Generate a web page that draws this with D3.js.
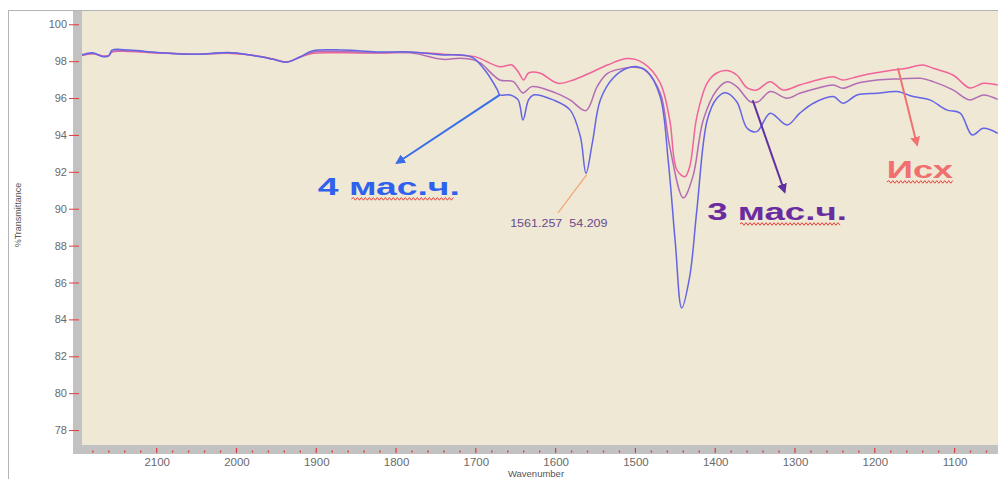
<!DOCTYPE html>
<html>
<head>
<meta charset="utf-8">
<script src="https://cdn.jsdelivr.net/npm/d3@7/dist/d3.min.js"></script>
<style>
  html, body { margin: 0; padding: 0; background: #fff; }
  svg { display: block; font-family: "Liberation Sans", Arial, sans-serif; }
</style>
</head>
<body>
<div id="chart"></div>
<script>
// spectra: [wavenumber, %T]
const isxSeries = [
  [2194, 98.30], [2180, 98.40], [2167, 98.28], [2160, 98.30], [2156, 98.50], [2134, 98.52], [2096, 98.44],
  [2055, 98.38], [2006, 98.42], [1970, 98.26], [1954, 98.12], [1937, 97.96], [1920, 98.22],
  [1904, 98.43], [1866, 98.45], [1824, 98.44], [1782, 98.48], [1741, 98.38], [1720, 98.32],
  [1703, 98.26], [1695, 98.15], [1670, 97.70], [1655, 97.79], [1647, 97.43],
  [1640, 96.98], [1634, 97.36], [1620, 97.36], [1597, 96.80], [1578, 96.98], [1557, 97.36],
  [1535, 97.79], [1510, 98.14], [1490, 97.89], [1469, 96.82], [1457, 94.81],
  [1448, 92.10], [1438, 91.74], [1432, 92.28], [1423, 94.99], [1410, 96.82], [1398, 97.36],
  [1385, 97.49], [1373, 97.25], [1360, 96.55], [1348, 96.44], [1331, 96.89], [1315, 96.44],
  [1294, 96.71], [1272, 96.98], [1252, 97.16], [1240, 96.98], [1222, 97.16], [1202, 97.34],
  [1177, 97.52], [1160, 97.62], [1140, 97.79], [1127, 97.62], [1102, 97.25], [1081, 96.55],
  [1064, 96.80], [1046, 96.71]
];
const mas3Series = [
  [2194, 98.32], [2180, 98.42], [2167, 98.26], [2160, 98.30], [2156, 98.52], [2134, 98.55], [2096, 98.45],
  [2055, 98.37], [2006, 98.44], [1970, 98.25], [1954, 98.11], [1937, 97.95], [1920, 98.23],
  [1904, 98.50], [1866, 98.52], [1824, 98.46], [1782, 98.45], [1741, 98.10], [1720, 98.16],
  [1703, 98.07], [1694, 97.89], [1670, 96.98], [1653, 96.89], [1641, 96.28], [1630, 96.62],
  [1600, 96.28], [1582, 95.90], [1562, 95.32], [1548, 96.62], [1535, 97.34], [1510, 97.65],
  [1503, 97.67], [1488, 97.52], [1469, 96.28], [1457, 93.37], [1440, 90.59], [1428, 91.74],
  [1415, 94.81], [1398, 96.44], [1385, 96.89], [1373, 96.62], [1356, 95.80], [1346, 95.80],
  [1331, 96.35], [1310, 95.99], [1294, 96.26], [1272, 96.53], [1252, 96.71], [1240, 96.53],
  [1222, 96.80], [1197, 96.98], [1168, 97.04], [1143, 97.07], [1127, 96.89], [1102, 96.44],
  [1081, 95.90], [1064, 96.17], [1046, 95.93]
];
const mas4Series = [
  [2194, 98.34], [2180, 98.46], [2167, 98.24], [2160, 98.30], [2156, 98.60], [2134, 98.60], [2096, 98.46],
  [2055, 98.37], [2006, 98.46], [1970, 98.24], [1954, 98.10], [1937, 97.94], [1920, 98.24],
  [1904, 98.57], [1866, 98.60], [1824, 98.50], [1782, 98.50], [1741, 98.34], [1720, 98.34],
  [1703, 98.17], [1686, 97.36], [1673, 96.44], [1670, 96.17], [1657, 96.17], [1647, 95.90],
  [1641, 94.81], [1634, 95.90], [1628, 96.17], [1603, 95.90], [1582, 95.36], [1569, 93.91],
  [1562, 91.92], [1554, 93.57], [1544, 95.90], [1528, 97.09], [1510, 97.63], [1498, 97.70],
  [1485, 97.43], [1469, 96.08], [1459, 92.65], [1450, 88.15], [1442, 84.62], [1432, 86.32],
  [1423, 89.94], [1410, 94.81], [1398, 95.99], [1387, 96.29], [1373, 95.80], [1360, 94.36],
  [1348, 94.18], [1331, 95.18], [1310, 94.54], [1294, 95.18], [1277, 95.72], [1252, 96.08],
  [1240, 95.72], [1222, 96.17], [1197, 96.26], [1172, 96.35], [1152, 96.08], [1131, 95.90],
  [1110, 95.36], [1093, 95.18], [1078, 94.00], [1064, 94.36], [1046, 94.09]
];

const yTicks = [78, 80, 82, 84, 86, 88, 90, 92, 94, 96, 98, 100];
const xTicks = [2100, 2000, 1900, 1800, 1700, 1600, 1500, 1400, 1300, 1200, 1100];
const xMinorTicks = d3.range(2180, 1040, -20);

// labels with arrows, in data units
const labels = [
  {text: "4 мас.ч.", from: 1898, to: 1720, t: 90.75, color: "#2f60ee", size: 24, wave: [1856, 1728]},
  {text: "3 мас.ч.", from: 1410, to: 1235, t: 89.39, color: "#6a2c9e", size: 24, wave: [1369, 1243]},
  {text: "Исх", from: 1185, to: 1102, t: 91.67, color: "#f07070", size: 24, wave: [1185, 1100]}
];
const arrows = [
  {x1: 1670, y1: 96.17, x2: 1799, y2: 92.48, color: "#3a6ee8"},
  {x1: 1353, y1: 95.88, x2: 1313, y2: 90.91, color: "#6030a0"},
  {x1: 1171, y1: 97.63, x2: 1147, y2: 93.46, color: "#f07272"}
];
const peakLabel = {text: "1561.257  54.209", wn: 1657, wnEnd: 1535, t: 89.02, lx1: 1561, ly1: 91.85, lx2: 1597, ly2: 89.77};

const W = 998, H = 479;
const plot = {left: 82, right: 998, top: 11, bottom: 445};

const svg = d3.select("#chart").append("svg")
  .attr("width", W).attr("height", H);

const x = d3.scaleLinear().domain([2193.6, 1045.6]).range([plot.left, plot.right]);
const y = d3.scaleLinear().domain([77.19, 100.72]).range([plot.bottom, plot.top]);

// frame
svg.append("line").attr("x1", 8.5).attr("x2", 8.5).attr("y1", 10).attr("y2", H)
  .attr("stroke", "#b4b4b4");
svg.append("line").attr("x1", 8).attr("x2", W).attr("y1", 10.5).attr("y2", 10.5)
  .attr("stroke", "#b4b4b4");

// plot background + grey strips
svg.append("rect").attr("x", plot.left).attr("y", plot.top)
  .attr("width", plot.right - plot.left).attr("height", plot.bottom - plot.top)
  .attr("fill", "#eee8d4");
svg.append("rect").attr("x", 73).attr("y", plot.top).attr("width", plot.left - 73)
  .attr("height", 454 - plot.top).attr("fill", "#c2c2c2");
svg.append("rect").attr("x", 73).attr("y", plot.bottom).attr("width", W - 73)
  .attr("height", 9).attr("fill", "#c2c2c2");

// y axis
const yAxis = svg.append("g").attr("transform", "translate(79,0)")
  .call(d3.axisLeft(y).tickValues(yTicks).tickSize(10).tickPadding(2));
yAxis.select(".domain").remove();
yAxis.selectAll(".tick line").attr("stroke", "#e23b3b");
yAxis.selectAll(".tick text").attr("fill", "#6a6a6a").style("font-size", "11px")
  .style("font-family", "Liberation Sans, Arial, sans-serif");

// x axis
const xAxis = svg.append("g").attr("transform", `translate(0,${plot.bottom})`)
  .call(d3.axisBottom(x).tickValues(xTicks).tickFormat(d3.format("d")).tickSize(0).tickPadding(13));
xAxis.select(".domain").remove();
xAxis.selectAll(".tick text").attr("fill", "#6a6a6a").style("font-size", "11.5px")
  .style("font-family", "Liberation Sans, Arial, sans-serif");

svg.append("g").selectAll("line").data(xTicks).join("line")
  .attr("x1", d => x(d)).attr("x2", d => x(d))
  .attr("y1", 448).attr("y2", 453)
  .attr("stroke", "#e23b3b").attr("stroke-width", 1.2);
svg.append("g").selectAll("line").data(xMinorTicks.filter(d => xTicks.indexOf(d) < 0)).join("line")
  .attr("x1", d => x(d)).attr("x2", d => x(d))
  .attr("y1", 450.5).attr("y2", 452.5)
  .attr("stroke", "#e23b3b").attr("stroke-width", 1.4);

// axis titles
svg.append("text").attr("transform", "translate(21,215) rotate(-90)")
  .attr("text-anchor", "middle").attr("fill", "#555").style("font-size", "9px")
  .text("%Transmittance");
svg.append("text").attr("x", 536).attr("y", 477)
  .attr("text-anchor", "middle").attr("fill", "#555").style("font-size", "9.5px")
  .text("Wavenumber");

// spectra
svg.append("clipPath").attr("id", "clip").append("rect")
  .attr("x", plot.left).attr("y", plot.top)
  .attr("width", plot.right - plot.left).attr("height", plot.bottom - plot.top);

const line = d3.line()
  .x(d => x(d[0])).y(d => y(d[1]))
  .curve(d3.curveCatmullRom.alpha(0.5));

const series = [
  {data: isxSeries, color: "#f0649a"},
  {data: mas3Series, color: "#b46cb4"},
  {data: mas4Series, color: "#6464e4"}
];
svg.append("g").attr("clip-path", "url(#clip)")
  .selectAll("path").data(series).join("path")
  .attr("d", d => line(d.data))
  .attr("fill", "none")
  .attr("stroke", d => d.color)
  .attr("stroke-width", 1.5);

// arrows
const defs = svg.append("defs");
arrows.forEach((a, i) => {
  defs.append("marker").attr("id", "arr" + i)
    .attr("viewBox", "0 0 10 10").attr("refX", 8).attr("refY", 5)
    .attr("markerWidth", 5).attr("markerHeight", 5)
    .attr("orient", "auto")
    .append("path").attr("d", "M0,0 L10,5 L0,10 z").attr("fill", a.color);
  svg.append("line")
    .attr("x1", x(a.x1)).attr("y1", y(a.y1))
    .attr("x2", x(a.x2)).attr("y2", y(a.y2))
    .attr("stroke", a.color).attr("stroke-width", 2)
    .attr("marker-end", `url(#arr${i})`);
});

// big labels with spell-check wave
function wavePath(x0, x1, yy) {
  let p = `M${x0},${yy}`;
  let up = true;
  for (let xx = x0 + 2; xx <= x1; xx += 2) {
    p += ` L${xx},${up ? yy - 1.3 : yy + 1.3}`;
    up = !up;
  }
  return p;
}
labels.forEach(l => {
  svg.append("text")
    .attr("x", x(l.from)).attr("y", y(l.t))
    .attr("fill", l.color)
    .style("font-size", l.size + "px").style("font-weight", "bold")
    .attr("textLength", x(l.to) - x(l.from))
    .attr("lengthAdjust", "spacingAndGlyphs")
    .text(l.text);
  svg.append("path")
    .attr("d", wavePath(x(l.wave[0]), x(l.wave[1]), y(l.t) + 4))
    .attr("fill", "none").attr("stroke", "#e8403a").attr("stroke-width", 1);
});

// peak pick label
svg.append("line")
  .attr("x1", x(peakLabel.lx1)).attr("y1", y(peakLabel.ly1))
  .attr("x2", x(peakLabel.lx2)).attr("y2", y(peakLabel.ly2))
  .attr("stroke", "#f2a47a").attr("stroke-width", 1.2);
svg.append("text")
  .attr("x", x(peakLabel.wn)).attr("y", y(peakLabel.t))
  .attr("fill", "#6a4a8c").style("font-size", "10.5px")
  .attr("xml:space", "preserve")
  .attr("textLength", x(peakLabel.wnEnd) - x(peakLabel.wn))
  .attr("lengthAdjust", "spacingAndGlyphs")
  .text(peakLabel.text);
</script>
</body>
</html>
